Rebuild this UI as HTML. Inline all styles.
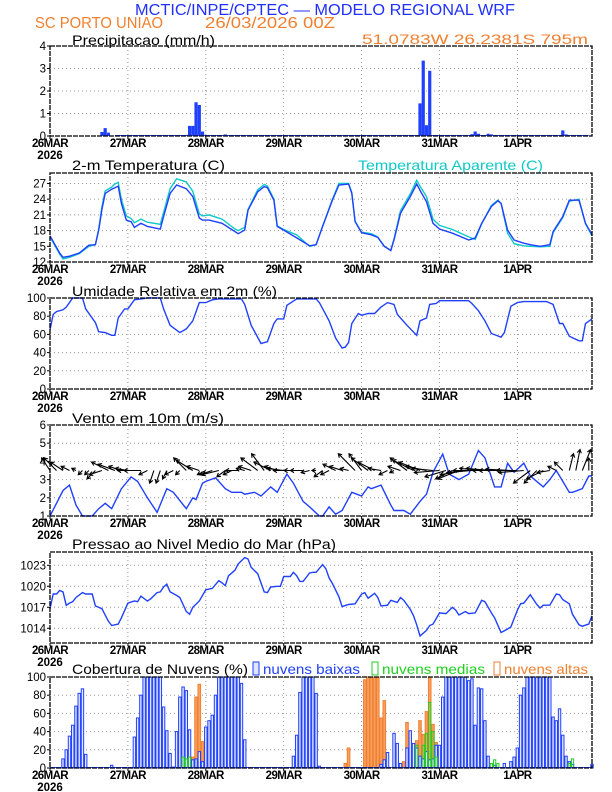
<!DOCTYPE html>
<html><head><meta charset="utf-8">
<style>
html,body{margin:0;padding:0;background:#fff;}
svg{display:block;font-family:"Liberation Sans",sans-serif;}
.t{font-size:14px;fill:#000}
.tk{font-size:11.5px;fill:#000}
</style></head>
<body>
<svg id="c" width="612" height="792" viewBox="0 0 612 792">
<text x="135" y="15" font-size="16" fill="#2030ff" textLength="380" lengthAdjust="spacingAndGlyphs">MCTIC/INPE/CPTEC — MODELO REGIONAL WRF</text>
<text x="35" y="28" font-size="16" fill="#f08030" textLength="128" lengthAdjust="spacingAndGlyphs">SC PORTO UNIAO</text>
<text x="205" y="28" font-size="16" fill="#f08030" textLength="130" lengthAdjust="spacingAndGlyphs">26/03/2026 00Z</text>
<text x="362" y="44" font-size="14" fill="#f08030" textLength="226" lengthAdjust="spacingAndGlyphs">51.0783W 26.2381S 795m</text>
<text x="72" y="45" class="t" textLength="143" lengthAdjust="spacingAndGlyphs">Precipitacao (mm/h)</text>
<text x="72" y="170" class="t" textLength="153" lengthAdjust="spacingAndGlyphs">2-m Temperatura (C)</text>
<text x="358" y="170" class="t" style="fill:#10c8c8" textLength="185" lengthAdjust="spacingAndGlyphs">Temperatura Aparente (C)</text>
<text x="72" y="296" class="t" textLength="205" lengthAdjust="spacingAndGlyphs">Umidade Relativa em 2m (%)</text>
<text x="72" y="423" class="t" textLength="152" lengthAdjust="spacingAndGlyphs">Vento em 10m (m/s)</text>
<text x="72" y="549" class="t" textLength="264" lengthAdjust="spacingAndGlyphs">Pressao ao Nivel Medio do Mar (hPa)</text>
<text x="72" y="674" class="t" textLength="176" lengthAdjust="spacingAndGlyphs">Cobertura de Nuvens (%)</text>
<rect x="253" y="662" width="6" height="13" fill="#dfe4ff" stroke="#2040ff"/>
<text x="263" y="674" class="t" style="fill:#2040ff" textLength="97" lengthAdjust="spacingAndGlyphs">nuvens baixas</text>
<rect x="372" y="662" width="6" height="13" fill="#fff" stroke="#20d020"/>
<text x="382" y="674" class="t" style="fill:#20d020" textLength="103" lengthAdjust="spacingAndGlyphs">nuvens medias</text>
<rect x="494" y="662" width="6" height="13" fill="#fff" stroke="#f08030"/>
<text x="504" y="674" class="t" style="fill:#f08030" textLength="84" lengthAdjust="spacingAndGlyphs">nuvens altas</text>
</svg>
<script>
// ---- data ----
const dayLabels=["26MAR","27MAR","28MAR","29MAR","30MAR","31MAR","1APR"];
const precipHours=[16,17,18,42,43,44,45,46,47,54,114,115,116,117,130,131,132,135,136,158,159];
const precipVals=[0.18,0.35,0.15,0.05,0.45,0.45,1.5,1.38,0.2,0.07,1.45,3.35,0.48,2.9,0.08,0.2,0.1,0.1,0.07,0.25,0.07];
const tempHours=[0,3,4,6,9,12,14,15,16,17,19,20,21,22,23.5,25,26,28,30,34,35,37,39,42,44,46,47,49,53,57,58,60,61,64,66,67,69,70,72,76,80,82,84,87,89,92,93,94,96,99,101,103,105,106,108,111,113,114,116,118,120,124,129,131,133,136,138,139,141,143,146,148,151,154,155,158,160,163,165,167];
const tempVals=[17.0,13.7,12.9,13.1,13.7,15.2,15.3,18.1,22,25.1,25.9,26.2,26.5,23.2,20,19.7,18.6,19.4,18.8,18.3,20.7,25.1,26.7,26,24.5,20.4,20.0,20,19.4,17.8,17.4,18.1,21.9,25.4,26.4,26.2,23.8,18.8,18.1,16.6,15.1,15.3,18.8,23.8,26.7,26.9,25.1,19.7,17.6,17.2,16.7,15,14.2,16.2,21.3,24.5,26.9,25.7,23.5,19.4,18.3,17.5,16.2,16.6,19.4,22.6,23.7,23.2,18.1,16.2,15.6,15.3,15.0,15.3,17.8,20.7,23.8,23.8,19.4,17.2];
const appTempVals=[16.8,13.5,12.6,12.9,13.6,15.0,15.3,18.3,22.5,25.6,26.3,26.9,27.2,24.0,20.8,20.3,19.5,20.2,19.6,19.2,21.5,26.0,27.9,27.3,25.5,21.2,20.8,21.0,20.2,18.3,18.0,18.6,22.0,25.8,26.8,26.5,24.0,18.9,18.2,17.2,15.0,15.3,18.8,24.0,27.0,27.0,25.3,19.8,17.7,17.4,16.8,15.0,14.2,16.4,21.8,25.0,27.6,26.5,24.5,20.2,19.0,18.2,16.8,16.3,19.3,22.8,23.8,23.2,17.5,15.5,15.1,15.0,14.9,15.0,17.6,20.5,23.6,24.0,19.3,17.0];
const rhHours=[0,1,2,4,5,7,10,11,14,15,17,19,20,21,23,24,26,28,30,34,35,37,40,42,44,46,48,50,52,59,60,62,65,67,69,70,72,73,76,82,83,86,88,90,91,92,93,95,96,98,100,102,104,106,107,110,113,114,116,117,119,120,129,130,132,134,136,139,140,142,144,146,153,155,157,158,160,163,164,165,167];
const rhVals=[65,82,85,87,90,100,100,88,73,63,62,59,59,78,88,88,98,99,100,100,88,70,62,66,75,95,95,98,99,99,93,70,50,52,72,77,77,92,99,99,95,75,56,45,46,51,72,83,81,83,83,90,95,93,82,70,59,75,78,93,94,97,97,94,86,75,61,57,62,91,95,96,96,93,72,72,58,53,53,72,77];
const windHours=[0,2,4,6,8,10,13,15,17,19,22,25,27,30,33,36,38,42,44,45,47,48,51,54,56,59,60,63,65,68,70,73,75,78,80,83,84,86,88,90,93,96,98,99,102,105,106,109,111,114,116,118,121,123,126,129,132,134,137,139,141,143,146,148,152,154,156,158,160,161,164,166,167];
const windSpeed=[1.0,1.7,2.4,2.7,1.6,1.0,1.0,1.4,1.7,1.4,2.5,3.15,2.9,2.0,1.2,2.5,2.3,1.4,2.0,1.9,2.8,2.9,3.1,2.5,2.3,2.3,2.2,2.3,2.1,2.6,2.3,3.3,2.8,1.8,1.5,1.0,1.0,1.5,1.1,1.3,2.3,2.1,2.6,2.5,2.7,1.6,1.3,1.3,1.1,1.8,2.2,3.4,4.4,3.3,3.0,3.3,4.6,4.2,2.6,2.6,3.9,3.4,3.9,3.2,2.6,3.0,3.5,2.9,2.3,2.3,2.5,3.2,3.2];
const vecHours=[0,2,4,6,8,10,12,14,16,18,20,22,24,26,28,30,32,34,36,38,40,42,44,46,48,50,52,54,56,58,60,62,64,66,68,70,72,74,76,78,80,82,84,86,88,90,92,94,96,98,100,102,104,106,108,110,112,114,116,118,120,122,124,126,128,130,132,134,136,138,140,142,144,146,148,150,152,154,156,158,160,162,164,166];
const windU=[-2,-3,-3,-2,-1,-1,-1,-2,-3,-4,-4,-3,-3,-4,-4,-2,-1,-1,-1,-2,-1,-3,-4,-3,-2,-3,-4,-2,-2,-3,-2,-3,-4,-3,-4,-3,-4,-4,-3,-3,-2,-1,-2,-2,-3,-3,-2,-4,-3,-4,-4,-3,-2,-1,-3,-4,-5,-5,-5,-5,-6,-5,-4,-5,-6,-6,-6,-6,-6,-6,-6,-6,-5,-6,-4,-3,-4,-3,-2,-2,1,1,2,0];
const windV=[3,3,2,1,0.5,-1,-1,-2,-1,2,1.5,1,0.5,0,0,-1,-3,-3,-2,-1,-1,3,2.5,1,-1,-1,-1,-1.5,-1,0,0.5,1,3,4,2,1,0.5,0,0,0,-0.5,0,-1.5,-1,1.5,1,0.5,4,4,3,2,0.5,-1,-0.5,1,3,2.5,2,1,0.5,-0.5,-1.5,-2,-2,-1,-0.5,0,0.5,0.5,0,0,0.3,0,-0.5,-3,-3,-2,-0.5,1,2,4,5,5,3];
const presHours=[0,1,2,3,4,5,6,7,8,10,11,13,14,16,18,19,21,22,24,26,27,28,30,31,33,34,35,36,37,39,40,42,43,44,46,48,50,52,53,54,55,57,58,60,61,62,64,66,67,68,70,71,72,74,75,76,77,78,80,81,82,84,85,86,87,89,90,92,94,96,97,98,100,101,102,104,105,107,108,109,111,112,113,114,116,117,118,120,122,124,125,126,128,129,131,133,134,136,137,139,141,142,144,145,146,148,150,151,152,154,156,157,158,160,161,163,164,166,167];
const presVals=[1016.8,1018.9,1018.9,1019.4,1019.2,1017.3,1017.6,1017.8,1018.4,1019.1,1018.9,1018.9,1017.2,1016.8,1015,1014.4,1014.6,1015.5,1017.6,1017.9,1017.8,1018.6,1017.9,1018.2,1019.1,1019.2,1019.9,1020.3,1019.2,1018.7,1018.4,1016.4,1016,1017,1017.9,1019.5,1019.7,1020.8,1020.5,1020.1,1021.5,1022.3,1023.2,1024.1,1023.9,1022.7,1021.8,1019.2,1019.1,1019.9,1020,1020,1021.4,1021.4,1022,1021.5,1020.7,1020.7,1021.9,1022,1022,1023.1,1022.5,1021.2,1020.4,1018.5,1017.1,1017.4,1017.5,1018.9,1019.1,1018.3,1019,1018.4,1017.2,1017.3,1018,1017.7,1018.4,1018,1016.7,1015.8,1014.5,1012.9,1013.7,1014.4,1014.6,1016.2,1016.1,1017,1016.6,1015.9,1016.4,1016.1,1016.2,1018,1017.8,1016.2,1015.5,1013.4,1013.9,1014.2,1016.6,1017.5,1017.6,1018.8,1017.4,1016.9,1017.3,1017.3,1018.9,1018.8,1018.1,1017.5,1016,1014.5,1014.3,1014.6,1015.8];
const lowHours=[4,5,6,7,8,9,10,11,19,26,27,28,29,30,31,32,33,34,35,36,37,38,39,40,41,42,43,44,45,46,47,48,49,50,51,52,53,54,55,56,57,58,59,60,75,76,77,78,79,80,81,82,83,102,103,104,106,107,108,110,111,112,113,114,115,116,117,118,119,120,121,122,123,124,125,126,127,128,129,130,131,132,133,134,135,137,140,142,143,144,145,146,147,148,149,150,151,152,153,154,155,156,157,158,159,160,161,167];
const lowVals=[10,20,35,47,68,82,87,15,3,34,55,80,100,100,100,100,100,100,67,41,16,1,40,78,89,85,42,9,10,18,7,45,52,58,80,100,100,100,100,100,100,100,93,31,13,36,83,100,100,100,100,82,2,4,9,17,38,27,5,22,41,27,22,13,10,18,9,10,25,25,78,100,100,100,100,100,100,100,96,98,47,88,87,52,13,3,5,7,12,22,80,88,100,100,100,100,100,100,100,100,56,52,65,36,13,7,4,4];
const midHours=[41,42,43,113,115,116,117,118,119,136,137,138,160,161];
const midVals=[12,10,12,25,25,38,72,40,12,5,9,5,5,10];
const highHours=[42,43,44,45,46,47,91,92,97,98,99,100,101,102,103,109,110,111,113,114,115,116,117,118,119];
const highVals=[3,5,12,78,92,29,5,22,97,100,100,100,100,55,74,7,50,7,30,52,37,62,100,48,28];

// ---- drawing ----
const svg=document.getElementById('c');
const NS='http://www.w3.org/2000/svg';
const X0=50,X1=592,HMAX=167;
function x(h){return X0+h*(X1-X0)/HMAX;}
function mk(tag,attrs,parent){const e=document.createElementNS(NS,tag);for(const k in attrs)e.setAttribute(k,attrs[k]);(parent||svg).appendChild(e);return e;}
function yScale(top,bot,lo,hi){return v=>bot-(v-lo)*(bot-top)/(hi-lo);}

function frame(name,top,bot,lo,hi,ticks){
  const g=mk('g',{});
  
  
  const y=yScale(top,bot,lo,hi);
  for(let i=1;i<dayLabels.length;i++){
    const l=mk('line',{x1:x(24*i),x2:x(24*i),y1:top,y2:bot,stroke:'#999','stroke-dasharray':'1,3'},g);
    
    
  }
  ticks.forEach(t=>{
    if(t>lo&&t<hi){
      const l=mk('line',{x1:X0,x2:X1,y1:y(t),y2:y(t),stroke:'#999','stroke-dasharray':'1,3'},g);
      
      
    }
    const tk=mk('line',{x1:X0-3,x2:X0,y1:y(t),y2:y(t),stroke:'#000'},g);
    
    
    const tx=mk('text',{x:X0-4,y:y(t)+4,'text-anchor':'end',class:'tk'},g);
    tx.textContent=t;
    
    
  });
  dayLabels.forEach((d,i)=>{
    const tk=mk('line',{x1:x(24*i),x2:x(24*i),y1:bot,y2:bot+3,stroke:'#000'},g);
    
    
    const tx=mk('text',{x:x(24*i),y:bot+11,'text-anchor':'middle',class:'tk','font-weight':'bold','letter-spacing':'-0.6'},g);
    tx.textContent=d;
    
    
  });
  const yr=mk('text',{x:x(0),y:bot+23,'text-anchor':'middle',class:'tk','font-weight':'bold'},g);
  yr.textContent='2026';
  
  
  return {g,y,top,bot};
}
function border(p){
  const r=mk('rect',{x:X0,y:p.top,width:X1-X0,height:p.bot-p.top,fill:'none',stroke:'#000','stroke-width':1.3,'stroke-dasharray':'5,1'},p.g);
  
  
}
function line(p,hs,vs,color,name){
  const d=hs.map((h,i)=>(i?'L':'M')+x(h).toFixed(1)+','+p.y(vs[i]).toFixed(1)).join('');
  const e=mk('path',{d,fill:'none',stroke:color,'stroke-width':1.4},p.g);
  
  
}
function bars(p,hs,vs,fill,stroke,name,w){
  hs.forEach((h,i)=>{
    const yy=p.y(vs[i]);
    const r=mk('rect',{x:x(h)-w/2,y:yy,width:w,height:Math.max(0,p.bot-yy),fill,stroke,'stroke-width':stroke==='none'?0:1},p.g);
    
    
  });
}

// Panel 1 precipitation
const p1=frame('precip',46,136,0,4,[0,1,2,3,4]);
bars(p1,precipHours,precipVals,'#2040ff','none','precip-bar',3.2);
const bl=mk('line',{x1:x(20),x2:x(166),y1:135.5,y2:135.5,stroke:'#2040ff','stroke-width':1},p1.g);


border(p1);

// Panel 2 temperature
const p2=frame('temp',173,262,12,29,[12,15,18,21,24,27]);
line(p2,tempHours,appTempVals,'#10c8c8','apparent-temp-line');
line(p2,tempHours,tempVals,'#2040ff','temp-line');
border(p2);

// Panel 3 humidity
const p3=frame('humidity',298,389,0,100,[0,20,40,60,80,100]);
line(p3,rhHours,rhVals,'#2040ff','humidity-line');
border(p3);

// Panel 4 wind
const p4=frame('wind',425,516,1,6,[1,2,3,4,5,6]);
line(p4,windHours,windSpeed,'#2040ff','wind-speed-line');
const K=4.2, base=p4.y(3.5);
vecHours.forEach((h,i)=>{
  const x1=x(h),y1=base,x2=x1+windU[i]*K,y2=y1-windV[i]*K;
  const len=Math.hypot(x2-x1,y2-y1)||1;
  const ux=(x2-x1)/len,uy=(y2-y1)/len;
  const hl=3.5;
  const d='M'+x1.toFixed(1)+','+y1.toFixed(1)+'L'+x2.toFixed(1)+','+y2.toFixed(1)+
    'M'+(x2-hl*ux+hl*0.6*uy).toFixed(1)+','+(y2-hl*uy-hl*0.6*ux).toFixed(1)+'L'+x2.toFixed(1)+','+y2.toFixed(1)+
    'L'+(x2-hl*ux-hl*0.6*uy).toFixed(1)+','+(y2-hl*uy+hl*0.6*ux).toFixed(1);
  const a=mk('path',{d,fill:'none',stroke:'#000','stroke-width':1.1},p4.g);
  
  
});
border(p4);

// Panel 5 pressure
const p5=frame('pressure',552,643,1011.9,1024.9,[1014,1017,1020,1023]);
line(p5,presHours,presVals,'#2040ff','pressure-line');
border(p5);

// Panel 6 clouds
const p6=frame('clouds',677,768,0,100,[0,20,40,60,80,100]);
bars(p6,highHours,highVals,'#f8a060','#f08030','high-cloud-bar',2.6);
bars(p6,lowHours,lowVals,'#e4e8ff','#2040ff','low-cloud-bar',2.4);
bars(p6,midHours,midVals,'none','#20d020','mid-cloud-bar',2.2);
const cb=mk('line',{x1:X0,x2:X1,y1:767.5,y2:767.5,stroke:'#2040ff','stroke-width':1},p6.g);


border(p6);
</script>
</body></html>
